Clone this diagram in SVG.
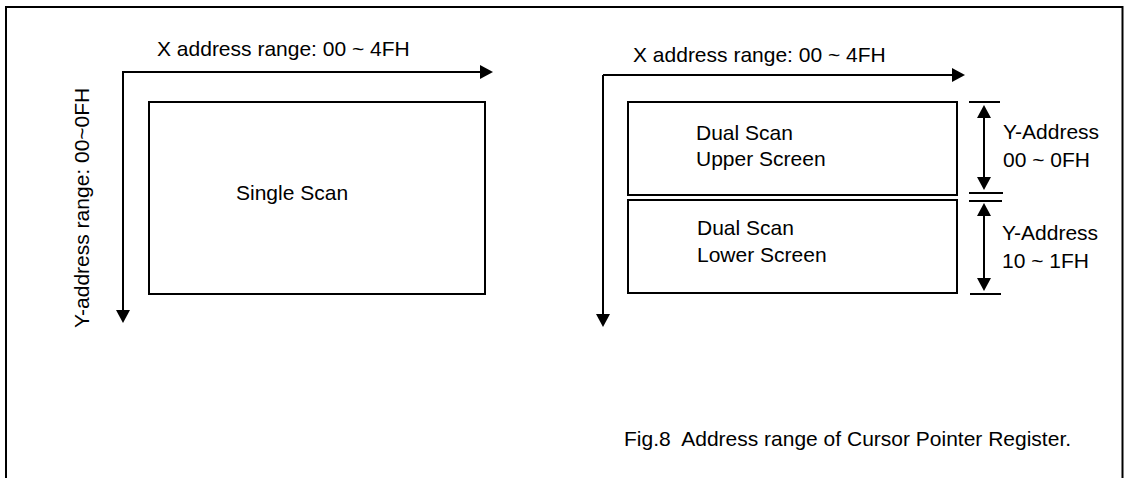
<svg xmlns="http://www.w3.org/2000/svg" width="1125" height="478" viewBox="0 0 1125 478">
<style>
text{font-family:"Liberation Sans",Arial,sans-serif;font-size:21px;fill:#000}
.box{fill:none;stroke:#000;stroke-width:2}
.ax{fill:none;stroke:#000;stroke-width:2}
.tick{fill:none;stroke:#000;stroke-width:2}
</style>
<defs>
<marker id="ah" markerUnits="userSpaceOnUse" markerWidth="14" markerHeight="14" refX="0" refY="7" orient="auto-start-reverse" viewBox="0 0 14 14">
<path d="M0,0 L13,7 L0,14 z" fill="#000"/>
</marker>
</defs>
<rect width="1125" height="478" fill="#fff"/>
<path d="M6,478 V7 H1122.5 V478" fill="none" stroke="#000" stroke-width="2"/>
<g id="connectors">
<path class="ax" d="M123,320 V72 H480" marker-end="url(#ah)"/>
<path class="ax" d="M123,72 V310" marker-end="url(#ah)"/>
<path class="ax" d="M603,75 H952" marker-end="url(#ah)"/>
<path class="ax" d="M603,75 V314" marker-end="url(#ah)"/>
<path class="ax" d="M984,118 V177" marker-start="url(#ah)" marker-end="url(#ah)"/>
<path class="ax" d="M984,216 V278" marker-start="url(#ah)" marker-end="url(#ah)"/>
<path class="tick" d="M969,102 H1000 M969,193 H1003 M969,201 H1002 M970,294 H1001"/>
</g>
<g id="xlabel-left"><text x="157" y="56">X address range: 00 ~ 4FH</text></g>
<g id="ylabel-left"><text transform="translate(89,328) rotate(-90)">Y-address range: 00~0FH</text></g>
<g id="single-scan">
<rect class="box" x="149" y="102" width="336" height="192"/>
<text x="236" y="200">Single Scan</text>
</g>
<g id="xlabel-right"><text x="633" y="62">X address range: 00 ~ 4FH</text></g>
<g id="upper-screen">
<rect class="box" x="628" y="102" width="329" height="93"/>
<text x="696" y="140">Dual Scan</text>
<text x="696" y="166">Upper Screen</text>
</g>
<g id="lower-screen">
<rect class="box" x="628" y="200" width="329" height="93"/>
<text x="697" y="235">Dual Scan</text>
<text x="697" y="262">Lower Screen</text>
</g>
<g id="yaddr-upper">
<text x="1003" y="139">Y-Address</text>
<text x="1003" y="167">00 ~ 0FH</text>
</g>
<g id="yaddr-lower">
<text x="1002" y="240">Y-Address</text>
<text x="1002" y="268">10 ~ 1FH</text>
</g>
<g id="caption"><text x="624" y="446" xml:space="preserve" style="white-space:pre">Fig.8  Address range of Cursor Pointer Register.</text></g>
</svg>
